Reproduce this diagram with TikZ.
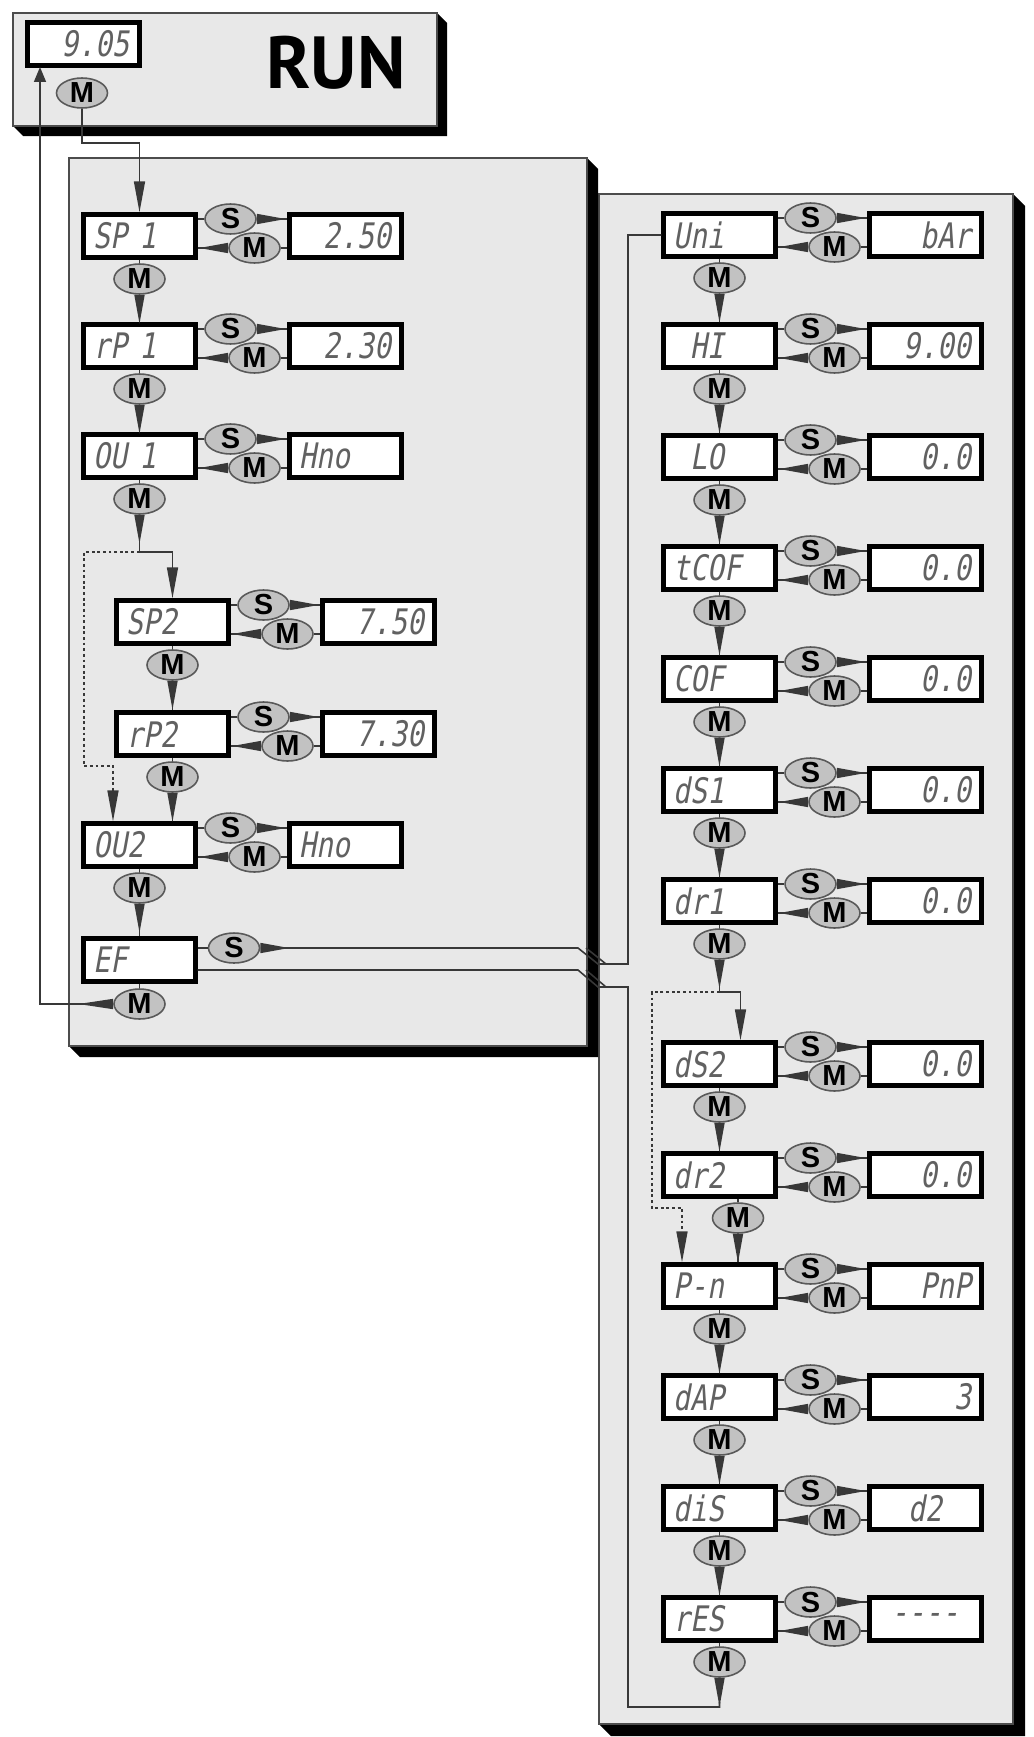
\documentclass[tikz,border=0pt]{standalone}
\usepackage{fontspec}
\setsansfont{Liberation Sans}
\newfontfamily\lcdfont{DejaVu Sans Mono}[FakeSlant=0.18,FakeStretch=0.8]
\newfontfamily\runfont{PT Sans}
\usepackage{xcolor}
\usepackage{tikz}
\usetikzlibrary{arrows.meta, positioning, shapes.geometric, calc}

\definecolor{panelgray}{gray}{0.91}
\definecolor{keygray}{gray}{0.76}
\definecolor{lcdgray}{gray}{0.38}
\definecolor{linegray}{gray}{0.22}

\begin{document}
\begin{tikzpicture}[x=0.02cm, y=-0.02cm,
    panel/.style={draw=black!70, line width=0.9pt, fill=panelgray},
    lcd/.style={draw=black, line width=2.5pt, fill=white, text=lcdgray, text width=1.84cm, inner xsep=0.2cm, inner ysep=0pt, minimum height=0.86cm, align=left, font=\fontsize{20}{20}\selectfont\lcdfont},
    key/.style={ellipse, draw=black!65, line width=0.9pt, fill=keygray, inner sep=0pt, minimum width=1.02cm, minimum height=0.6cm, font=\fontsize{16.5}{16.5}\selectfont\sffamily\bfseries},
    conn/.style={draw=linegray, line width=0.9pt},
    wedge/.style={{Triangle[reversed, length=0.58cm, width=0.2cm]}-},
    feed/.style={-{Triangle[length=0.62cm, width=0.22cm]}},
    dotline/.style={conn, dash pattern=on 1.6pt off 1.6pt}]
  \useasboundingbox (0,0) rectangle (1034,1737);

  % panels with their shadow
  \foreach \xa/\ya/\xb/\yb/\sh in {13/13/437/126/10, 599/194/1013/1724/12, 69/158/587/1046/11} {
    \fill[black] (\xa,\yb) -- (\xa+\sh,\yb+\sh) -- (\xb+\sh,\yb+\sh) -- (\xb+\sh,\ya+\sh) -- (\xb,\ya) -- cycle;
    \draw[panel] (\xa,\ya) rectangle (\xb,\yb);
  }

  % RUN mode
  \node[lcd, align=right] (disp) at (83.5,44) {9.05};
  \node[key] (md0) at (82,93) {M};
  \node[font=\fontsize{42}{42}\selectfont\runfont\bfseries, inner sep=0pt] (run) at (336,63) {RUN};

  % parameter rows: box, value, S and M keys
  \foreach \n/\cx/\cy/\lab/\val/\al/\dx in {
      1/139.5/236/SP 1/2.50/right/0, 2/139.5/346/rP 1/2.30/right/0, 3/139.5/456/OU 1/Hno/left/0,
      4/172.5/622/SP2/7.50/right/0, 5/172.5/734/rP2/7.30/right/0, 6/139.5/845/OU2/Hno/left/0,
      8/719.5/235/Uni/bAr/right/0, 9/719.5/346/\phantom{H}HI/9.00/right/0,
      10/719.5/457/\phantom{L}LO/0.0/right/0, 11/719.5/568/tCOF/0.0/right/0,
      12/719.5/679/COF/0.0/right/0, 13/719.5/790/dS1/0.0/right/0, 14/719.5/901/dr1/0.0/right/0,
      15/719.5/1064/dS2/0.0/right/0, 16/719.5/1175/dr2/0.0/right/18.5,
      17/719.5/1286/P-n/PnP/right/0, 18/719.5/1397/dAP/3/right/0,
      19/719.5/1508/diS/d2/center/0, 20/719.5/1619/rES/----/center/0} {
    \node[lcd] (par\n) at (\cx,\cy) {\lab};
    \node[lcd, align/.expanded=\al] (val\n) at (\cx+206,\cy) {\val};
    \node[key] (sk\n) at (\cx+91,\cy-17) {S};
    \node[key] (mk\n) at (\cx+115,\cy+12) {M};
    \node[key] (md\n) at (\cx+\dx,\cy+43) {M};
    \draw[conn] (par\n.east |- sk\n) -- (sk\n);
    \draw[conn, wedge] (sk\n) -- (val\n.west |- sk\n);
    \draw[conn] (val\n.west |- mk\n) -- (mk\n);
    \draw[conn, wedge] (mk\n) -- (par\n.east |- mk\n);
    \draw[conn] (md\n |- par\n.south) -- (md\n);
  }

  % EF: extended functions
  \node[lcd] (par7) at (139.5,960) {EF};
  \node[key] (sk7) at (234,948) {S};
  \node[key] (md7) at (139.5,1004) {M};
  \draw[conn] (par7.east |- sk7) -- (sk7);
  \draw[conn] (par7) -- (md7);

  % turning points of the long lines
  \coordinate (t0) at (139.5,143);
  \coordinate (ret) at (40,67);
  \coordinate (j1) at (139.5,552);
  \coordinate (dl1) at (84,552);
  \coordinate (dl2) at (84,766);
  \coordinate (dl3) at (113,766);
  \coordinate (j2) at (719.5,992);
  \coordinate (k2) at (740.5,992);
  \coordinate (dl4) at (652,992);
  \coordinate (dl5) at (652,1208);
  \coordinate (dl6) at (682,1208);
  \coordinate (b1) at (578,948);
  \coordinate (b2) at (598,964);
  \coordinate (b3) at (628,964);
  \coordinate (c1) at (578,970);
  \coordinate (c2) at (598,987);
  \coordinate (c3) at (628,987);
  \coordinate (c4) at (628,1707);
  \coordinate (c5) at (719.5,1707);

  % M steps down the menu
  \foreach \a/\b in {1/2, 2/3, 4/5, 5/6, 6/7, 8/9, 9/10, 10/11, 11/12, 12/13, 13/14, 15/16, 16/17, 17/18, 18/19, 19/20}
    \draw[conn, wedge] (md\a) -- (md\a |- par\b.north);

  \draw[conn, feed] (md0) |- (t0) -- (par1);
  \draw[conn, {Triangle[reversed, length=0.7cm, width=0.2cm]}-{Triangle[length=0.3cm, width=0.24cm]}] (md7) -| (ret);

  % OU1 -> SP2 or OU2
  \draw[conn, wedge] (md3) -- (j1);
  \draw[conn, feed] (j1) -| (par4);
  \draw[dotline, feed] (j1) -- (dl1) -- (dl2) -- (dl3) -- (dl3 |- par6.north);

  % dr1 -> dS2 or P-n
  \draw[conn, wedge] (md14) -- (j2);
  \draw[conn, feed] (j2) -- (k2) -- (k2 |- par15.north);
  \draw[dotline, feed] (j2) -- (dl4) -- (dl5) -- (dl6) -- (dl6 |- par17.north);

  % EF in and out
  \draw[conn, wedge] (sk7) -- (b1) -- (b2) -- (b3) |- (par8.west);
  \draw[conn, wedge] (md20) -- (c5) -- (c4) -- (c3) -- (c2) -- (c1) -- (par7.east |- c1);
  \draw[conn] ($(b1)+(8,0)$) -- ($(b2)+(8,0)$);
  \draw[conn] ($(c1)+(8,0)$) -- ($(c2)+(8,0)$);
\end{tikzpicture}
\end{document}
